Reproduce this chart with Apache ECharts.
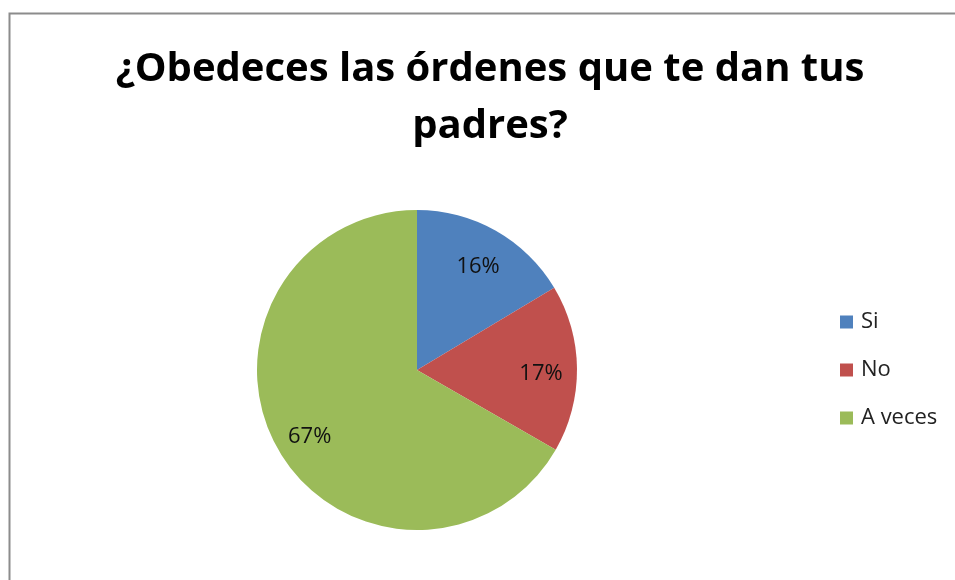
<!DOCTYPE html>
<html>
<head>
<meta charset="utf-8">
<script src="https://cdn.jsdelivr.net/npm/echarts@6/dist/echarts.min.js"></script>
<style>html,body{margin:0;padding:0;background:#fff;}#c{width:955px;height:580px;}</style>
</head>
<body>
<div id="c"></div>
<script>
var titleText = '¿Obedeces las órdenes que te dan tus\npadres?';
var categories = ['Si', 'No', 'A veces'];
var values = [16.4, 16.9, 66.7];
var colors = ['#4F81BD', '#C0504D', '#9BBB59'];

var chart = echarts.init(document.getElementById('c'));
var pieData = categories.map(function (n, i) {
  return { name: n, value: values[i], itemStyle: { color: colors[i] } };
});
var labelData = categories.map(function (n, i) {
  return { name: n, value: values[i] };
});
chart.setOption({
  animation: false,
  graphic: [{
    type: 'rect', left: 7, top: 11, silent: true,
    shape: { width: 1000, height: 700 },
    style: { fill: 'none', stroke: '#8c8c8c', lineWidth: 2 }
  }],
  title: {
    text: titleText, left: 485, top: 36, textAlign: 'center',
    textStyle: { fontFamily: 'Open Sans', fontWeight: 'bold', fontSize: 40, lineHeight: 57, color: '#000' }
  },
  legend: {
    data: categories, orient: 'vertical', left: 840, top: 311, padding: 0,
    itemWidth: 13, itemHeight: 13, itemGap: 26,
    icon: 'rect',
    textStyle: { fontFamily: 'Open Sans', fontSize: 22, color: '#222', padding: [0, 0, 0, 3] }
  },
  series: [{
    type: 'pie', center: [417, 370], radius: [0, 160], startAngle: 90, clockwise: true,
    label: { show: false }, labelLine: { show: false },
    emphasis: { disabled: true },
    data: pieData
  }, {
    type: 'pie', center: [417, 370], radius: [82, 160], startAngle: 90, clockwise: true,
    silent: true, percentPrecision: 0,
    itemStyle: { color: 'rgba(0,0,0,0)' },
    label: { show: true, position: 'inside', formatter: '{d}%', fontFamily: 'Open Sans', fontSize: 22, color: '#111', offset: [0, 5] },
    labelLine: { show: false },
    emphasis: { disabled: true },
    data: labelData
  }]
});
</script>
</body>
</html>
